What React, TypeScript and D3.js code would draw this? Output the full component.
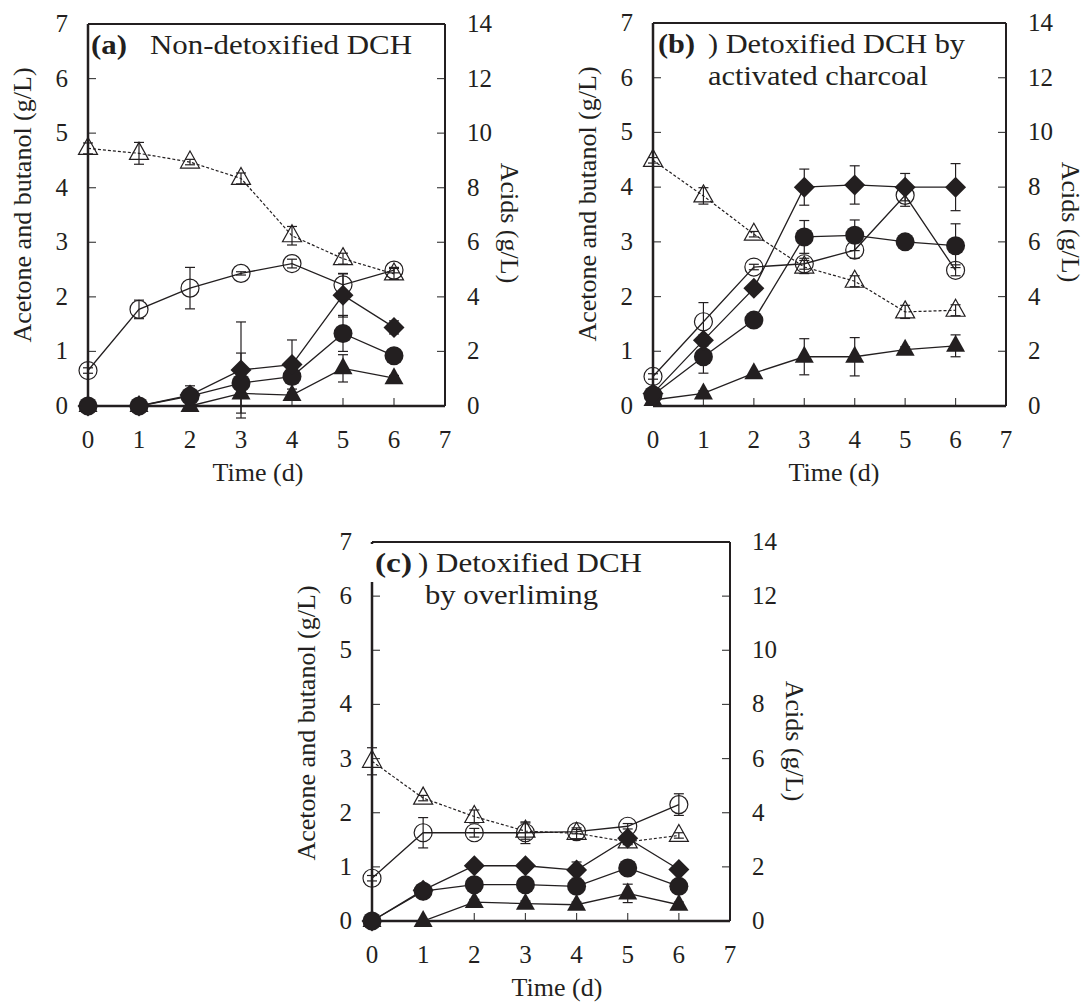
import React from 'react';
import * as d3 from 'd3';

const days = [0, 1, 2, 3, 4, 5, 6];
const xTicks = [0, 1, 2, 3, 4, 5, 6, 7];
const leftTicks = [0, 1, 2, 3, 4, 5, 6, 7];
const rightTicks = [0, 2, 4, 6, 8, 10, 12, 14];

// (a) non-detoxified DCH
const acetoneA = [0, 0, 0, 0.23, 0.2, 0.69, 0.51];
const acetoneErrA = [0, 0, 0, 0.05, 0.05, 0.25, 0.05];
const butanolA = [0, 0, 0.18, 0.42, 0.54, 1.33, 0.92];
const butanolErrA = [0, 0, 0.1, 0.55, 0.1, 0.33, 0.05];
const solventA = [0, 0, 0.2, 0.66, 0.76, 2.03, 1.44];
const solventErrA = [0, 0, 0.17, 0.88, 0.45, 0.4, 0.12];
const aceticA = [1.3, 3.54, 4.32, 4.86, 5.22, 4.44, 4.98];
const aceticErrA = [0.1, 0.34, 0.76, 0.06, 0.16, 0.4, 0.1];
const butyricA = [9.44, 9.26, 8.94, 8.34, 6.24, 5.4, 4.84];
const butyricErrA = [0.2, 0.4, 0.1, 0.2, 0.34, 0.2, 0.2];

// (b) activated charcoal
const acetoneB = [0.11, 0.23, 0.6, 0.9, 0.9, 1.03, 1.1];
const acetoneErrB = [0, 0.05, 0, 0.33, 0.35, 0.05, 0.2];
const butanolB = [0.2, 0.9, 1.57, 3.09, 3.12, 3.0, 2.93];
const butanolErrB = [0, 0.3, 0, 0.3, 0.28, 0, 0.4];
const solventB = [0.23, 1.2, 2.15, 4.0, 4.04, 4.0, 4.0];
const solventErrB = [0, 0.1, 0, 0.33, 0.35, 0.25, 0.43];
const aceticB = [1.08, 3.08, 5.08, 5.2, 5.7, 7.7, 4.96];
const aceticErrB = [0.1, 0.7, 0.1, 0.2, 0.3, 0.4, 0.2];
const butyricB = [8.98, 7.68, 6.28, 5.08, 4.56, 3.44, 3.5];
const butyricErrB = [0.1, 0.3, 0.1, 0.24, 0.2, 0.24, 0.2];

// (c) overliming
const acetoneC = [0, 0, 0.35, 0.32, 0.3, 0.51, 0.3];
const acetoneErrC = [0, 0, 0.05, 0.05, 0.05, 0.17, 0.05];
const butanolC = [0, 0.55, 0.67, 0.67, 0.64, 0.98, 0.64];
const butanolErrC = [0, 0.03, 0.05, 0.05, 0.05, 0.05, 0.05];
const solventC = [0, 0.57, 1.02, 1.02, 0.94, 1.53, 0.95];
const solventErrC = [0, 0.03, 0.05, 0.05, 0.15, 0.05, 0.05];
const aceticC = [1.58, 3.26, 3.26, 3.26, 3.3, 3.5, 4.3];
const aceticErrC = [0.1, 0.56, 0.16, 0.4, 0.08, 0.1, 0.4];
const butyricC = [5.9, 4.54, 3.86, 3.32, 3.24, 2.92, 3.16];
const butyricErrC = [0.5, 0.1, 0.24, 0.3, 0.2, 0.1, 0.1];

const FONT = '"Liberation Serif", "Times New Roman", serif';
const INK = '#231f20';

type Marker = 'openTri' | 'openCircle' | 'diamond' | 'circle' | 'tri';
type Series = { values: number[]; err: number[]; marker: Marker; axis: 'left' | 'right'; dashed?: boolean };

const triPath = 'M0,-11L9.5,6L-9.5,6Z';
const diamondPath = 'M0,-10.5L10.5,0L0,10.5L-10.5,0Z';

function MarkerShape({ kind, cx, cy }: { kind: Marker; cx: number; cy: number }) {
  const t = `translate(${cx},${cy})`;
  if (kind === 'openTri') return <path d={triPath} transform={t} fill="none" stroke={INK} strokeWidth={1.2} />;
  if (kind === 'tri') return <path d={triPath} transform={t} fill={INK} />;
  if (kind === 'diamond') return <path d={diamondPath} transform={t} fill={INK} />;
  if (kind === 'openCircle') return <circle cx={cx} cy={cy} r={9} fill="none" stroke={INK} strokeWidth={1.2} />;
  return <circle cx={cx} cy={cy} r={9.5} fill={INK} />;
}

type Box = { left: number; right: number; top: number; bottom: number };
type TitleLine = { text: string; dx: number; width: number };

function Panel({ box, series, tag, tagWidth, titleX, titleLines, xLabelX, maskLeft }: {
  box: Box; series: Series[]; tag: string; tagWidth: number; titleX: number; titleLines: TitleLine[]; xLabelX: number; maskLeft?: boolean;
}) {
  const x = d3.scaleLinear().domain([0, 7]).range([box.left, box.right]);
  const yL = d3.scaleLinear().domain([0, 7]).range([box.bottom, box.top]);
  const yR = d3.scaleLinear().domain([0, 14]).range([box.bottom, box.top]);

  return (
    <g fontFamily={FONT} fill={INK}>
      {/* ticks inside the frame */}
      {leftTicks.map(t => (
        <g key={'lt' + t} stroke="#444" strokeWidth={1.2}>
          <line x1={box.left} x2={box.left + 8} y1={yL(t)} y2={yL(t)} />
          <line x1={box.right} x2={box.right - 8} y1={yL(t)} y2={yL(t)} />
        </g>
      ))}
      {xTicks.map(t => (
        <line key={'xt' + t} x1={x(t)} x2={x(t)} y1={box.bottom} y2={box.bottom - 8} stroke="#444" strokeWidth={1.2} />
      ))}
      {/* frame */}
      <line x1={box.left} x2={box.right} y1={box.top} y2={box.top} stroke={INK} strokeWidth={2} />
      <line x1={box.right} x2={box.right} y1={box.top} y2={box.bottom} stroke={INK} strokeWidth={2} />
      <line x1={box.left} x2={box.left} y1={box.top} y2={box.bottom} stroke={INK} strokeWidth={2.5} />
      <line x1={box.left} x2={box.right} y1={box.bottom} y2={box.bottom} stroke={INK} strokeWidth={2.5} />

      {/* tick labels */}
      {leftTicks.map(t => (
        <text key={'ll' + t} x={box.left - 20} y={yL(t) + 8} fontSize={25} textAnchor="end">{t}</text>
      ))}
      {rightTicks.map(t => (
        <text key={'rl' + t} x={box.right + 22} y={yR(t) + 8} fontSize={25}>{t}</text>
      ))}
      {xTicks.map(t => (
        <text key={'xl' + t} x={x(t)} y={box.bottom + 42} fontSize={25} textAnchor="middle">{t}</text>
      ))}

      {/* axis titles */}
      <text x={xLabelX} y={box.bottom + 75} fontSize={26} textAnchor="middle">Time (d)</text>
      <text transform={`translate(${box.left - 57},${box.top + 181}) rotate(-90)`} fontSize={26} textAnchor="middle">
        Acetone and butanol (g/L)
      </text>
      <text transform={`translate(${box.right + 56},${box.top + 199}) rotate(90)`} fontSize={26} textAnchor="middle">
        Acids (g/L)
      </text>

      {/* series */}
      {series.map((s, i) => {
        const y = s.axis === 'left' ? yL : yR;
        const line = d3.line<number>().x((_, j) => x(days[j])).y(v => y(v));
        return (
          <g key={'s' + i}>
            <path d={line(s.values) || ''} fill="none" stroke={INK} strokeWidth={s.dashed ? 1.2 : 1.3}
              strokeDasharray={s.dashed ? '3,2' : undefined} />
            {s.values.map((v, j) => s.err[j] > 0 ? (
              <g key={'e' + j} stroke={INK} strokeWidth={1.2}>
                <line x1={x(days[j])} x2={x(days[j])} y1={y(v - s.err[j])} y2={y(v + s.err[j])} />
                <line x1={x(days[j]) - 5} x2={x(days[j]) + 5} y1={y(v - s.err[j])} y2={y(v - s.err[j])} />
                <line x1={x(days[j]) - 5} x2={x(days[j]) + 5} y1={y(v + s.err[j])} y2={y(v + s.err[j])} />
              </g>
            ) : null)}
          </g>
        );
      })}
      {series.map((s, i) => {
        const y = s.axis === 'left' ? yL : yR;
        return (
          <g key={'m' + i}>
            {s.values.map((v, j) => <MarkerShape key={j} kind={s.marker} cx={x(days[j])} cy={y(v)} />)}
          </g>
        );
      })}

      {/* panel title */}
      {maskLeft && <rect x={box.left - 4} y={box.top + 2} width={40} height={38} fill="white" />}
      <text x={box.left + titleX} y={box.top + 30} fontSize={28} fontWeight="bold"
        textLength={tagWidth} lengthAdjust="spacingAndGlyphs">{tag}</text>
      {titleLines.map((l, i) => (
        <text key={'t' + i} x={box.left + l.dx} y={box.top + 30 + i * 32} fontSize={27}
          textLength={l.width} lengthAdjust="spacingAndGlyphs">{l.text}</text>
      ))}
    </g>
  );
}

function makeSeries(acetone: number[], acetoneErr: number[], butanol: number[], butanolErr: number[],
  solvent: number[], solventErr: number[], acetic: number[], aceticErr: number[], butyric: number[], butyricErr: number[]): Series[] {
  return [
    { values: butyric, err: butyricErr, marker: 'openTri', axis: 'right', dashed: true },
    { values: acetic, err: aceticErr, marker: 'openCircle', axis: 'right' },
    { values: acetone, err: acetoneErr, marker: 'tri', axis: 'left' },
    { values: butanol, err: butanolErr, marker: 'circle', axis: 'left' },
    { values: solvent, err: solventErr, marker: 'diamond', axis: 'left' },
  ];
}

export default function App() {
  return (
    <svg width={1092} height={1002} style={{ position: 'absolute', left: 0, top: 0, background: 'white' }}>
      <Panel
        box={{ left: 88, right: 445, top: 24, bottom: 406 }}
        series={makeSeries(acetoneA, acetoneErrA, butanolA, butanolErrA, solventA, solventErrA, aceticA, aceticErrA, butyricA, butyricErrA)}
        tag="(a)" tagWidth={36} titleX={3}
        titleLines={[{ text: 'Non-detoxified DCH', dx: 62, width: 262 }]}
        xLabelX={258}
      />
      <Panel
        box={{ left: 653, right: 1006, top: 23, bottom: 406 }}
        series={makeSeries(acetoneB, acetoneErrB, butanolB, butanolErrB, solventB, solventErrB, aceticB, aceticErrB, butyricB, butyricErrB)}
        tag="(b)" tagWidth={37} titleX={5}
        titleLines={[
          { text: ') Detoxified DCH by', dx: 55, width: 257 },
          { text: 'activated charcoal', dx: 55, width: 220 },
        ]}
        xLabelX={834}
      />
      <Panel
        box={{ left: 372, right: 730, top: 542, bottom: 921 }}
        series={makeSeries(acetoneC, acetoneErrC, butanolC, butanolErrC, solventC, solventErrC, aceticC, aceticErrC, butyricC, butyricErrC)}
        tag="(c)" tagWidth={37} titleX={3}
        titleLines={[
          { text: ') Detoxified DCH', dx: 46, width: 224 },
          { text: 'by overliming', dx: 53, width: 173 },
        ]}
        xLabelX={557} maskLeft
      />
    </svg>
  );
}
